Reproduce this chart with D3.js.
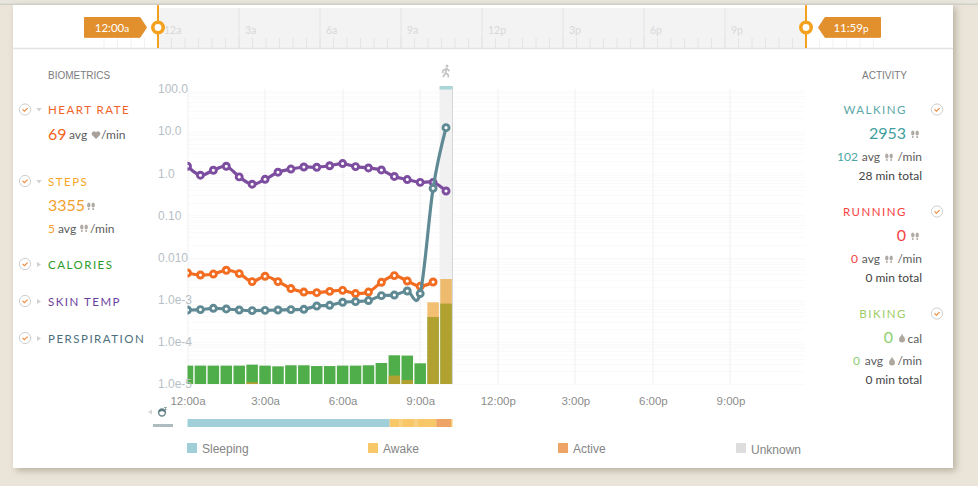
<!DOCTYPE html>
<html>
<head>
<meta charset="utf-8">
<script src="https://cdnjs.cloudflare.com/ajax/libs/d3/7.8.5/d3.min.js"></script>
<style>
html, body { margin: 0; padding: 0; background: #ebe5d9; overflow: hidden; }
svg { display: block; }
text { font-family: "Lato", sans-serif; }
.axis text, .plain { font-family: "Liberation Sans", Arial, sans-serif; }
</style>
</head>
<body>
<svg id="chart" width="978" height="486"></svg>
<script>
// half hour samples, starting at midnight
var times = [0, 0.5, 1, 1.5, 2, 2.5, 3, 3.5, 4, 4.5, 5, 5.5, 6, 6.5, 7, 7.5, 8, 8.5, 9, 9.5, 10];

var skinTemp = [1.47, 0.90, 1.18, 1.47, 0.82, 0.55, 0.72, 1.06, 1.26, 1.41, 1.39, 1.51, 1.70, 1.44, 1.34, 1.20, 0.84, 0.71, 0.61, 0.61, 0.38];
var heartRate = [4.3e-3, 3.86e-3, 4.07e-3, 5.0e-3, 4.17e-3, 2.69e-3, 3.6e-3, 2.69e-3, 1.84e-3, 1.52e-3, 1.47e-3, 1.58e-3, 1.67e-3, 1.40e-3, 1.52e-3, 2.59e-3, 3.73e-3, 2.78e-3, 2.08e-3, 2.63e-3, null];
var perspiration = [5.7e-4, 5.83e-4, 6.25e-4, 6.03e-4, 5.7e-4, 5.52e-4, 5.6e-4, 5.7e-4, 5.83e-4, 5.93e-4, 7.1e-4, 7.37e-4, 8.7e-4, 9.03e-4, 9.55e-4, 1.25e-3, 1.29e-3, 1.61e-3, 1.40e-3, 0.44, 12.1];
var calories = [2.73e-5, 2.73e-5, 2.73e-5, 2.73e-5, 2.73e-5, 2.88e-5, 2.73e-5, 2.63e-5, 2.78e-5, 2.78e-5, 2.67e-5, 2.67e-5, 2.73e-5, 2.73e-5, 2.78e-5, 3.15e-5, 4.8e-5, 4.72e-5, 3.1e-5, 3.89e-4, 8.09e-4];
var steps = [null, null, null, null, null, 1.1e-5, null, null, null, null, null, null, null, null, null, null, 1.58e-5, 1.24e-5, null, 8.7e-4, 3.1e-3];

var yTicks = [100, 10, 1, 0.1, 0.01, 1e-3, 1e-4, 1e-5];
var yLabels = ["100.0", "10.0", "1.0", "0.10", "0.010", "1.0e-3", "1.0e-4", "1.0e-5"];
var hourTicks = [0, 3, 6, 9, 12, 15, 18, 21];
var hourLabels = ["12:00a", "3:00a", "6:00a", "9:00a", "12:00p", "3:00p", "6:00p", "9:00p"];
var overviewLabels = ["12a", "3a", "6a", "9a", "12p", "3p", "6p", "9p"];

// sleep state strip: start hour, end hour, state
var sleepStarts = [0, 7.82, 9.62, 10.2];
var sleepEnds = [7.82, 9.62, 10.2, 10.25];
var sleepStates = ["Sleeping", "Awake", "Active", "Awake"];
var awakeBreaks = [8.2, 8.28, 8.78, 8.86];
var legendNames = ["Sleeping", "Awake", "Active", "Unknown"];
var legendColors = ["#a0ced9", "#f8c768", "#eda465", "#dddddd"];

var svg = d3.select("#chart");

var defs = svg.append("defs");
var shadow = defs.append("filter").attr("id", "shadow").attr("x", "-5%").attr("y", "-5%").attr("width", "110%").attr("height", "110%");
shadow.append("feDropShadow").attr("dx", 3).attr("dy", 3).attr("stdDeviation", 3.5).attr("flood-color", "#8f8674").attr("flood-opacity", 0.55);
defs.append("clipPath").attr("id", "plotClip").append("rect").attr("x", 187.5).attr("y", 80).attr("width", 625).attr("height", 304);

// page panel
svg.append("rect").attr("x", 0).attr("y", 0).attr("width", 978).attr("height", 4).attr("fill", "#e8e6dc");
svg.append("rect").attr("x", 13).attr("y", 4).attr("width", 940).attr("height", 464).attr("fill", "#fff").attr("filter", "url(#shadow)");
svg.append("rect").attr("x", 0).attr("y", 3.5).attr("width", 978).attr("height", 1.5).attr("fill", "#cfcfc8");

/*********** overview strip ***********/
var tl = d3.scaleLinear().domain([0, 24]).range([158, 806]);
var overview = svg.append("g");
overview.append("rect").attr("x", tl(0)).attr("y", 8).attr("width", tl(24) - tl(0)).attr("height", 40).attr("fill", "#f3f3f3");
overview.selectAll(".minor").data(d3.range(-4, 54)).enter().append("line")
    .attr("x1", function(d) { return tl(d / 2); }).attr("x2", function(d) { return tl(d / 2); })
    .attr("y1", 38).attr("y2", 48)
    .attr("stroke", function(d) { return (d < 0 || d > 48) ? "#f2f2f2" : "#e4e4e4"; });
overview.selectAll(".major").data(hourTicks.slice(1)).enter().append("line")
    .attr("x1", function(d) { return tl(d); }).attr("x2", function(d) { return tl(d); })
    .attr("y1", 8).attr("y2", 48).attr("stroke", "#e4e4e4");
overview.selectAll(".lab").data(hourTicks).enter().append("text")
    .attr("x", function(d) { return tl(d) + 6; }).attr("y", 34)
    .attr("font-size", 10.5).attr("fill", "#d8d8d8")
    .text(function(d, i) { return overviewLabels[i]; });
overview.append("line").attr("x1", 13).attr("x2", 953).attr("y1", 48.5).attr("y2", 48.5).attr("stroke", "#e4e4e4").attr("stroke-width", 1.5);

function handle(x, side, big, small) {
  var g = svg.append("g");
  g.append("line").attr("x1", x).attr("x2", x).attr("y1", 5).attr("y2", 48).attr("stroke", "#f4a11f").attr("stroke-width", 2);
  g.append("circle").attr("cx", x).attr("cy", 27.5).attr("r", 5.2).attr("fill", "#fff").attr("stroke", "#f4a11f").attr("stroke-width", 3.6);
  var pts = side < 0
    ? [[84.5, 17.5], [140, 17.5], [146.5, 27.5], [140, 37.3], [84.5, 37.3]]
    : [[825, 17.5], [880.5, 17.5], [880.5, 37.3], [825, 37.3], [818.5, 27.5]];
  g.append("path").attr("d", d3.line()(pts) + "Z").attr("fill", "#e28f2d")
      .attr("stroke", "#e28f2d").attr("stroke-linejoin", "round");
  var t = g.append("text").attr("x", side < 0 ? 112 : 851).attr("y", 32).attr("text-anchor", "middle").attr("fill", "#fff").attr("font-size", 11.5);
  t.append("tspan").text(big);
  t.append("tspan").attr("font-size", 10).text(small);
}
handle(tl(0), -1, "12:00", "a");
handle(tl(24), 1, "11:59", "p");

/*********** main chart ***********/
var x = d3.scaleLinear().domain([0, 24]).range([187.5, 808]);
var y = d3.scaleLog().domain([1e-5, 100]).range([384, 89]);
var plot = svg.append("g");

var minorY = [];
yTicks.slice(1).forEach(function(t) { d3.range(1, 10).forEach(function(k) { minorY.push(t * k); }); });
plot.selectAll(".gy").data(minorY).enter().append("line")
    .attr("x1", x(0)).attr("x2", 805)
    .attr("y1", function(d) { return Math.round(y(d)) + 0.5; }).attr("y2", function(d) { return Math.round(y(d)) + 0.5; })
    .attr("stroke", "#fafafa");
plot.selectAll(".gx").data(hourTicks).enter().append("line")
    .attr("x1", function(d) { return Math.round(x(d)); }).attr("x2", function(d) { return Math.round(x(d)); })
    .attr("y1", 89).attr("y2", 384).attr("stroke", "#f0f0f0");

// current walking period
var activeStart = 9.75, activeEnd = 10.25;
plot.append("rect").attr("x", x(activeStart)).attr("y", 86).attr("width", x(activeEnd) - x(activeStart)).attr("height", 298).attr("fill", "#f1f1f1");
plot.append("line").attr("x1", x(activeEnd)).attr("x2", x(activeEnd)).attr("y1", 86).attr("y2", 384).attr("stroke", "#d6d6d6").attr("stroke-width", 1);
plot.append("rect").attr("x", x(activeStart)).attr("y", 86).attr("width", x(activeEnd) - x(activeStart)).attr("height", 3.5).attr("fill", "#a9d6d6");

// walker icon
var walker = svg.append("g").attr("transform", "translate(446,71)").attr("fill", "none").attr("stroke", "#c4c4c4").attr("stroke-width", 1.7);
walker.append("circle").attr("cx", 1).attr("cy", -5).attr("r", 1.5).attr("fill", "#c4c4c4").attr("stroke", "none");
walker.append("path").attr("d", "M0.5,-2.5L-0.5,2L-3,6M-0.5,2L2,3.5L2.5,6.5M0.5,-2.5L-3,-0.5L-3.5,2M0.5,-2.5L3.5,0");

var clipped = plot.append("g").attr("clip-path", "url(#plotClip)");

function barRect(sel, values, fill, opacity) {
  sel.selectAll("rect").data(times.filter(function(d, i) { return values[i] != null; })).enter().append("rect")
      .attr("x", function(d) { return x(d - 0.25) + 0.7; })
      .attr("width", function(d) { return x(d + 0.25) - x(d - 0.25) - 1.4; })
      .attr("y", function(d) { return y(values[times.indexOf(d)]); })
      .attr("height", function(d) { return y(1e-5) - y(values[times.indexOf(d)]); })
      .attr("fill", fill).attr("opacity", opacity);
}
barRect(clipped.append("g"), calories, "#50ae4a", 1);
barRect(clipped.append("g"), steps, "#eb9a21", 0.63);

function drawLine(values, color) {
  var pts = times.map(function(t, i) { return { t: t, v: values[i] }; }).filter(function(d) { return d.v != null; });
  var line = d3.line().curve(d3.curveCardinal.tension(0))
      .x(function(d) { return x(d.t); }).y(function(d) { return y(d.v); });
  var g = clipped.append("g");
  g.append("path").attr("d", line(pts)).attr("fill", "none").attr("stroke", color).attr("stroke-width", 3.2);
  g.selectAll("circle").data(pts).enter().append("circle")
      .attr("cx", function(d) { return x(d.t); }).attr("cy", function(d) { return y(d.v); })
      .attr("r", 3).attr("fill", "#fff").attr("stroke", color).attr("stroke-width", 2.9);
}
drawLine(skinTemp, "#7d4e9f");
drawLine(heartRate, "#f26d21");
drawLine(perspiration, "#5f8a94");

// axes
var yAxis = svg.append("g").attr("class", "axis").attr("transform", "translate(158,0)")
    .call(d3.axisLeft(y).tickValues(yTicks).tickSize(0).tickPadding(0).tickFormat(function(d, i) { return yLabels[i]; }));
yAxis.select(".domain").remove();
yAxis.selectAll("text").attr("text-anchor", "start").attr("x", 0).attr("font-size", 12).attr("fill", "#b7c0c6");

var xAxis = svg.append("g").attr("class", "axis").attr("transform", "translate(0,392)")
    .call(d3.axisBottom(x).tickValues(hourTicks).tickSize(0).tickPadding(5).tickFormat(function(d, i) { return hourLabels[i]; }));
xAxis.select(".domain").remove();
xAxis.selectAll("text").attr("font-size", 11.5).attr("fill", "#8c8c8c");

/*********** sleep strip and legend ***********/
var stateColor = d3.scaleOrdinal().domain(legendNames).range(legendColors);
svg.append("g").selectAll("rect").data(sleepStarts).enter().append("rect")
    .attr("x", function(d) { return x(d); })
    .attr("width", function(d, i) { return x(sleepEnds[i]) - x(d); })
    .attr("y", 419).attr("height", 8)
    .attr("fill", function(d, i) { return stateColor(sleepStates[i]); });
svg.append("g").selectAll("rect").data(awakeBreaks).enter().append("rect")
    .attr("x", function(d) { return x(d); }).attr("width", 0.9)
    .attr("y", 419).attr("height", 8).attr("fill", "#fbdc9f");

var sleepIcon = svg.append("g").attr("transform", "translate(162,412)");
sleepIcon.append("circle").attr("cy", 0.5).attr("r", 3.4).attr("fill", "#fff").attr("stroke", "#6f8a90").attr("stroke-width", 1.5);
sleepIcon.append("path").attr("d", "M-3.5,0.5A3.5,3.5 0 0 1 3.5,0.5L0,-1Z").attr("fill", "#5f7a80");
sleepIcon.append("path").attr("d", "M2,-4.5L4.5,-4.5L2.5,-2.5L4.5,-2.5").attr("fill", "none").attr("stroke", "#6f8a90").attr("stroke-width", 0.8);
svg.append("path").attr("d", "M148,412L152,409.5L152,414.5Z").attr("fill", "#d5d5d5");
svg.append("rect").attr("x", 153).attr("y", 424).attr("width", 20).attr("height", 3).attr("fill", "#aebcbf");

var legendX = [187, 368, 558, 736];
var legendTextY = [453, 453, 453, 454];
var legend = svg.append("g").selectAll("g").data(legendNames).enter().append("g")
    .attr("transform", function(d, i) { return "translate(" + legendX[i] + ",0)"; });
legend.append("rect").attr("y", 443).attr("width", 10).attr("height", 10).attr("fill", function(d) { return stateColor(d); });
legend.append("text").attr("class", "plain").attr("x", 15).attr("y", function(d, i) { return legendTextY[i]; })
    .attr("font-size", 12).attr("fill", "#858585").text(function(d) { return d; });

/*********** side panels ***********/
var grey = "#5c5c5c";
function label(px, py, str, color, size, anchor, spacing) {
  return svg.append("text").attr("x", px).attr("y", py).attr("fill", color).attr("font-size", size)
      .attr("text-anchor", anchor || "start").attr("letter-spacing", spacing || 0).text(str);
}
function check(cx, cy) {
  var g = svg.append("g").attr("transform", "translate(" + cx + "," + cy + ")");
  g.append("circle").attr("r", 5.6).attr("fill", "#fff").attr("stroke", "#cfcfcf");
  g.append("path").attr("d", "M-2.5,-0.2L-0.6,1.7L2.6,-1.4").attr("fill", "none").attr("stroke", "#f08a3c").attr("stroke-width", 1.1);
}
function feet(cx, cy) {
  var g = svg.append("g").attr("transform", "translate(" + cx + "," + cy + ")").attr("fill", "#b0aaa4");
  [-2.2, 2.2].forEach(function(d) {
    g.append("ellipse").attr("cx", d).attr("cy", -1).attr("rx", 1.7).attr("ry", 2.6);
    g.append("circle").attr("cx", d).attr("cy", 2.9).attr("r", 1);
  });
}
function heart(cx, cy) {
  svg.append("path").attr("transform", "translate(" + cx + "," + cy + ")")
      .attr("d", "M0,4L-4,0A2.2,2.2 0 0 1 0,-2.4A2.2,2.2 0 0 1 4,0Z").attr("fill", "#a8a09a");
}
function drop(cx, cy) {
  svg.append("path").attr("transform", "translate(" + cx + "," + cy + ")")
      .attr("d", "M0,-4.5C0.5,-2 3,-1 3,1.5A3,3 0 0 1 -3,1.5C-3,-1 -0.5,-2 0,-4.5Z").attr("fill", "#ada79f");
}
function toggle(py, open) {
  svg.append("path").attr("d", open
      ? "M36.5," + (py - 2) + "L41.5," + (py - 2) + "L39," + (py + 1.5) + "Z"
      : "M37," + (py - 3) + "L37," + (py + 2) + "L41," + (py - 0.5) + "Z").attr("fill", "#d0d0d0");
}

label(48, 79, "BIOMETRICS", "#7c7c7c", 10).attr("class", "plain");
label(862, 79, "ACTIVITY", "#7c7c7c", 10).attr("class", "plain");

// left column
check(25, 109.5); toggle(110, true);
label(48, 114, "HEART RATE", "#f0622a", 11.5, "start", 1.5);
label(48, 140, "69", "#f26522", 16);
label(69, 139, "avg", grey, 12);
heart(96, 135);
label(101, 139, "/min", grey, 12);

check(25, 181); toggle(182, true);
label(48, 186, "STEPS", "#f5a623", 11.5, "start", 1.5);
label(48, 211, "3355", "#f5a02e", 16);
feet(91, 206);
label(48, 233, "5", "#f5a02e", 12);
label(58, 233, "avg", grey, 12);
feet(84, 228);
label(90, 233, "/min", grey, 12);

check(25, 264); toggle(265, false);
label(48, 269, "CALORIES", "#2c9a2c", 11.5, "start", 1.5);
check(25, 301); toggle(302, false);
label(48, 306, "SKIN TEMP", "#6b3f9e", 11.5, "start", 1.5);
check(25, 338); toggle(339, false);
label(48, 343, "PERSPIRATION", "#4c6f7c", 11.5, "start", 1.5);

// right column
check(937, 109.5);
label(907, 114, "WALKING", "#5aa8a8", 11.5, "end", 1.5);
label(906, 139, "2953", "#3fa0a0", 16, "end");
feet(915, 134);
label(858, 161, "102", "#4aa5a5", 12, "end");
label(880, 161, "avg", grey, 12, "end");
feet(889, 157);
label(922, 161, "/min", grey, 12, "end");
label(922, 180, "28 min total", "#444", 12, "end");

check(937, 211.5);
label(907, 216, "RUNNING", "#f4433f", 11.5, "end", 1.5);
label(906, 241, "0", "#f4433f", 16, "end");
feet(915, 236);
label(858, 263, "0", "#f4433f", 12, "end");
label(880, 263, "avg", grey, 12, "end");
feet(889, 259);
label(922, 263, "/min", grey, 12, "end");
label(922, 282, "0 min total", "#444", 12, "end");

check(937, 313.5);
label(907, 318, "BIKING", "#9ccc65", 11.5, "end", 1.5);
label(893, 343, "0", "#8ccf70", 16, "end");
drop(902, 338);
label(922, 343, "cal", grey, 12, "end");
label(860, 365, "0", "#8ccf70", 12, "end");
label(883, 365, "avg", grey, 12, "end");
drop(892, 361);
label(922, 365, "/min", grey, 12, "end");
label(922, 384, "0 min total", "#444", 12, "end");
</script>
</body>
</html>
